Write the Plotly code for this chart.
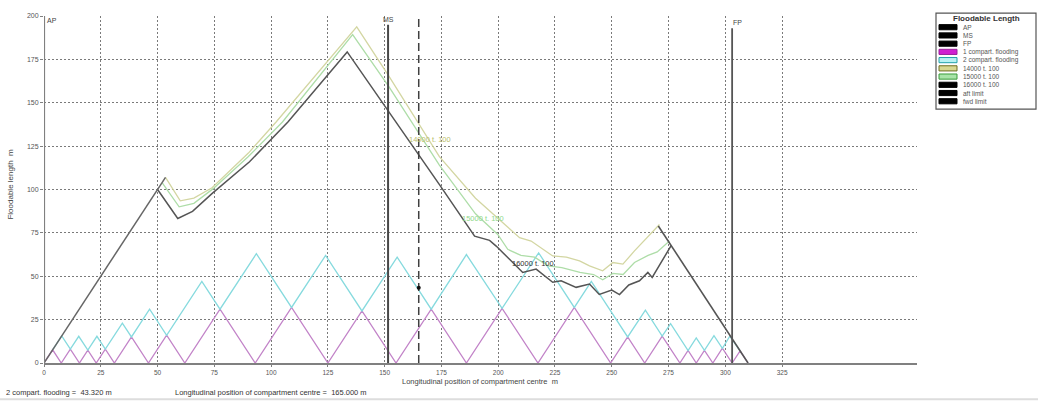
import plotly.graph_objects as go

# ---------------- data ----------------
x_ticks = [0, 25, 50, 75, 100, 125, 150, 175, 200, 225, 250, 275, 300, 325]
y_ticks = [0, 25, 50, 75, 100, 125, 150, 175, 200]

# floodable length curves (x = longitudinal position, y = floodable length)
fl16000_x = [50, 58.9, 65.4, 74.2, 90.5, 107.4, 133.5, 151, 164.6, 174.2, 189.6, 196.2, 199.1, 203.5,
             210.8, 216.7, 224, 227.7, 234.3, 240.2, 244.5, 250, 253.4, 257.5, 262.2, 265.9, 267.8, 276.2]
fl16000_y = [100, 83.3, 87.4, 97.9, 116, 138.9, 179.3, 146.5, 120.7, 102.7, 73.1, 70.7, 67.4, 61.7,
             52.2, 54.1, 46.5, 47.4, 43.6, 45.5, 39.5, 42, 39.4, 45, 47.4, 52.2, 49.3, 67.8]

fl15000_x = [52, 59.5, 66, 74.5, 90, 105, 135.9, 152, 174.1, 190, 199.8, 204.2, 210, 216, 222, 228,
             236, 242, 246, 250.5, 255, 260, 266, 270, 275.4]
fl15000_y = [104, 90, 92, 100.5, 119, 138.9, 189.3, 159, 114.1, 86, 74.1, 65.5, 62, 61, 56, 55,
             52.2, 51, 48, 51.6, 51, 57.9, 62, 64, 70.3]

fl14000_x = [53.5, 60, 66, 74, 90, 102.2, 137.7, 152, 174.1, 190, 209.4, 214.5, 224, 230, 235.8,
             240.2, 246, 250.5, 254.9, 260, 271]
fl14000_y = [107, 93.5, 95, 101, 121, 138.9, 193.7, 165, 118.9, 95, 72.2, 70.3, 61.7, 61, 58.9,
             56, 53.1, 57.9, 57, 64.6, 79.8]

aft_limit_x = [0, 53.5]
aft_limit_y = [0, 107]
fwd_limit_x = [270.5, 310]
fwd_limit_y = [79, 0]

# 1 compartment flooding (zigzag vertices)
one_comp_x = [0, 3.8, 7.6, 11.6, 15.6, 19.3, 23, 27, 31, 38.5, 46, 54, 62, 77.5, 93, 109, 125,
              140, 155, 170.5, 186, 201.7, 217.5, 233.5, 249.5, 257, 264.5, 272.2, 280, 283.6,
              287.2, 290.8, 294.5, 298.7, 303, 306.5, 310]
one_comp_y = [0, 7.6, 0, 8, 0, 7.4, 0, 8, 0, 15, 0, 16, 0, 31, 0, 32, 0,
              30, 0, 31, 0, 31.5, 0, 32, 0, 15, 0, 15.5, 0, 7.2,
              0, 7.3, 0, 8.5, 0, 7, 0]

# 2 compartment flooding (zigzag vertices)
two_comp_x = [3.8, 7.8, 11.6, 15.3, 19.3, 23.3, 27, 34.5, 38.5, 46.5, 54, 69.5, 77.5, 93.5, 109,
              124, 140, 155.5, 170.5, 186, 201.7, 217.8, 233.5, 241, 257, 264.8, 272.2, 275.9,
              283.6, 287.2, 290.8, 295, 298.7, 302, 306.5]
two_comp_y = [7.6, 15.6, 8, 15.4, 7.4, 15.4, 8, 23, 15, 31, 16, 47, 31, 63, 32,
              62, 30, 61, 31, 62.5, 31.5, 63.5, 32, 47, 15, 30.5, 15.5, 22.7,
              7.2, 14.5, 7.3, 15.8, 8.5, 15.5, 7]

ap_x, ms_x, fp_x = 0, 151.5, 303
ms_top, fp_top = 195, 193
comp_centre = 165.0
two_comp_length = 43.32

legend_names = ["AP", "MS", "FP", "1 compart. flooding", "2 compart. flooding",
                "14000 t. 100", "15000 t. 100", "16000 t. 100", "aft limit", "fwd limit"]

# ---------------- styling ----------------
W, H = 1038, 401
ML, MR, MT, MB = 44, 121, 13, 38
PW, PH = W - ML - MR, H - MT - MB
X_MAX = 384.4

C_BLACK = "#555555"
C_14 = "#d3d6a2"
C_15 = "#aedda8"
C_MAG = "#c283c8"
C_CYAN = "#86dade"
FONT = "Liberation Sans, Arial, sans-serif"


def px(xp):
    return (xp - ML) / PW


def py(yp):
    return (H - MB - yp) / PH


fig = go.Figure()


def add_line(x, y, color, width, dash=None):
    fig.add_trace(go.Scatter(x=x, y=y, mode="lines", hoverinfo="skip",
                             line=dict(color=color, width=width, dash=dash), showlegend=False))


add_line(one_comp_x, one_comp_y, C_MAG, 1.3)
add_line(two_comp_x, two_comp_y, C_CYAN, 1.3)
add_line(fl14000_x, fl14000_y, C_14, 1.3)
add_line(fl15000_x, fl15000_y, C_15, 1.3)
add_line(fl16000_x, fl16000_y, C_BLACK, 1.5)
add_line(aft_limit_x, aft_limit_y, "#666666", 1.5)
add_line(fwd_limit_x, fwd_limit_y, "#555555", 1.6)
add_line([ap_x, ap_x], [0, 200], "#808080", 2.2)
add_line([ms_x, ms_x], [0, ms_top], "#484848", 2)
add_line([fp_x, fp_x], [0, fp_top], "#555555", 1.8)
add_line([comp_centre, comp_centre], [0, 200], "#404040", 1.5, dash="8px,4px")
fig.add_trace(go.Scatter(x=[comp_centre], y=[two_comp_length], mode="markers", hoverinfo="skip",
                         marker=dict(color="#111111", size=4), showlegend=False))

annotations = [
    dict(x=ap_x, y=200, text="AP", xanchor="left", yanchor="top", xshift=1, yshift=1),
    dict(x=ms_x, y=ms_top, text="MS", xanchor="center", yanchor="bottom", yshift=0),
    dict(x=fp_x, y=fp_top, text="FP", xanchor="left", yanchor="bottom", xshift=-1, yshift=0),
]
annotations = [dict(a, showarrow=False, font=dict(size=7, color="#444", family=FONT)) for a in annotations]

annotations += [
    dict(x=169.8, y=129, text="14000 t. 100", showarrow=False, xanchor="center", yanchor="middle",
         font=dict(size=7.5, color="#b9be6a", family=FONT)),
    dict(x=193.5, y=83.4, text="15000 t. 100", showarrow=False, xanchor="center", yanchor="middle",
         font=dict(size=7.5, color="#8fd88a", family=FONT)),
    dict(x=215.5, y=57.1, text="16000 t. 100", showarrow=False, xanchor="center", yanchor="middle",
         font=dict(size=7.5, color="#333333", family=FONT)),
]


def paper_text(xp, yp, text, xanchor="center", size=8, color="#444", **kw):
    return dict(xref="paper", yref="paper", x=px(xp), y=py(yp), text=text, xanchor=xanchor,
                yanchor="middle", showarrow=False, font=dict(size=size, color=color, family=FONT), **kw)


# axis titles and status text
annotations += [
    paper_text(480, 381.5, "Longitudinal position of compartment centre  m", size=7.5),
    paper_text(11, 183, "Floodable length  m", textangle=-90),
    paper_text(4, 392.5, f"2 compart. flooding =  {two_comp_length:.3f} m", xanchor="left",
               size=7.5, color="#333"),
    paper_text(173, 392.5, f"Longitudinal position of compartment centre =  {comp_centre:.3f} m",
               xanchor="left", size=7.5, color="#333"),
]

shapes = [
    dict(type="line", xref="paper", yref="paper", x0=px(0), x1=px(W), y0=py(399.5), y1=py(399.5),
         line=dict(color="#dddddd", width=2)),
]

# manual legend box
LX0, LX1, LY0, LY1 = 936, 1036, 10, 107
shapes.append(dict(type="rect", xref="paper", yref="paper", x0=px(LX0), x1=px(LX1), y0=py(LY1), y1=py(LY0),
                   line=dict(color="#555", width=1.2), fillcolor="white"))
annotations.append(paper_text(986, 16, "<b>Floodable Length</b>", size=8, color="#333"))
sw_styles = [("#000", "#000"), ("#000", "#000"), ("#000", "#000"),
             ("#d020d0", "#9a209a"), ("#b8f2f2", "#20a0a8"),
             ("#d8d890", "#6e6e20"), ("#a8e4a8", "#3a9a3a"),
             ("#000", "#000"), ("#000", "#000"), ("#000", "#000")]
for i, name in enumerate(legend_names):
    yc = 24.3 + 8.3 * i
    fill, border = sw_styles[i]
    shapes.append(dict(type="rect", xref="paper", yref="paper", x0=px(939), x1=px(957),
                       y0=py(yc + 2.6), y1=py(yc - 2.6), line=dict(color=border, width=1), fillcolor=fill))
    annotations.append(paper_text(961, yc, name, xanchor="left", size=6.5, color="#555"))

grid = dict(showgrid=True, gridcolor="#7a7a7a", gridwidth=1, griddash="2px,2px")

fig.update_layout(
    width=W, height=H,
    margin=dict(l=ML, r=MR, t=MT, b=MB, pad=0),
    paper_bgcolor="white", plot_bgcolor="white",
    font=dict(family=FONT, size=7, color="#555"),
    xaxis=dict(range=[0, X_MAX], tickvals=x_ticks, ticktext=[str(v) for v in x_ticks],
               showline=True, linecolor="#808080", linewidth=2, zeroline=False,
               ticks="outside", ticklen=2, tickcolor="#808080", tickfont=dict(size=6.5, color="#555"),
               **grid),
    yaxis=dict(range=[0, 200], tickvals=y_ticks, ticktext=[str(v) for v in y_ticks],
               showline=False, zeroline=False,
               ticks="outside", ticklen=3, tickcolor="#808080", tickfont=dict(size=7, color="#555"),
               **grid),
    shapes=shapes,
    annotations=annotations,
    showlegend=False,
)

fig.write_html("out.html")
